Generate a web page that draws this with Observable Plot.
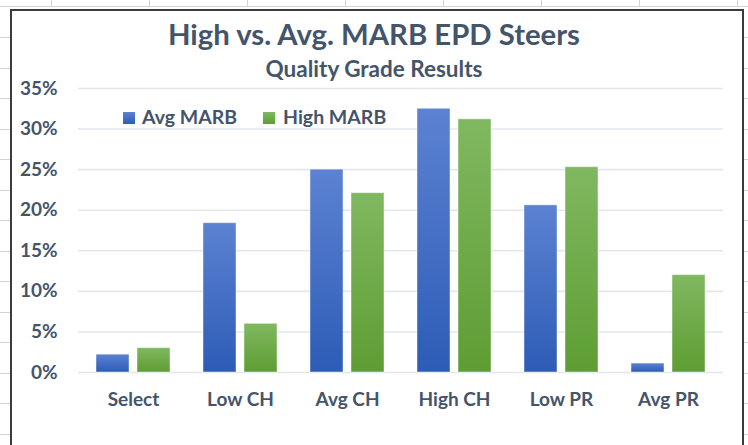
<!DOCTYPE html>
<html>
<head>
<meta charset="utf-8">
<script src="https://cdn.jsdelivr.net/npm/d3@7"></script>
<script src="https://cdn.jsdelivr.net/npm/@observablehq/plot@0.6"></script>
<style>
  html, body { margin: 0; padding: 0; }
  body {
    width: 748px; height: 445px; overflow: hidden; position: relative;
    background: #fff; font-family: Lato, "Open Sans", sans-serif;
  }
  .sheet-top { position: absolute; left: 0; top: 6px; width: 748px; height: 1px; background: #d4d4d4; }
  .sheet-cols { position: absolute; left: 0; top: 0; width: 748px; height: 7px;
    background: repeating-linear-gradient(90deg, transparent 0 51px, #d4d4d4 51px 52px, transparent 52px 98px); }
  .sheet-rows-l { position: absolute; left: 0; top: 8px; width: 10px; height: 437px;
    background: repeating-linear-gradient(180deg, transparent 0 29px, #d4d4d4 29px 30px, transparent 30px 30.5px); }
  .sheet-rows-r { position: absolute; left: 743px; top: 8px; width: 5px; height: 437px;
    background: repeating-linear-gradient(180deg, transparent 0 29px, #d4d4d4 29px 30px, transparent 30px 30.5px); }
  .frame { position: absolute; left: 10px; top: 9px; width: 730px; height: 460px;
    border: 2px solid #3c3c3c; background: #fff; }
  .title { position: absolute; left: 0; width: 748px; text-align: center; color: #44546A; font-weight: 700; }
  #t1 { top: 16px; font-size: 29.3px; line-height: 36px; }
  #t2 { top: 56px; font-size: 22.5px; line-height: 26px; }
  .legend { position: absolute; top: 105px; left: 0; color: #44546A; font-weight: 700; font-size: 19.5px; line-height: 24px; }
  .legend span.item { position: absolute; white-space: nowrap; }
  .legend i { position: absolute; top: 7px; width: 12px; height: 12px; }
  .layer { position: absolute; left: 0; top: 60px; }
</style>
</head>
<body>
<div class="sheet-top"></div>
<div class="sheet-cols"></div>
<div class="sheet-rows-l"></div>
<div class="sheet-rows-r"></div>
<div class="frame"></div>
<div class="layer" id="axes"></div>
<div class="layer" id="bars"></div>
<div class="title" id="t1">High vs. Avg. MARB EPD Steers</div>
<div class="title" id="t2">Quality Grade Results</div>
<div class="legend" id="legend"></div>
<script>
const categories = ["Select", "Low CH", "Avg CH", "High CH", "Low PR", "Avg PR"];
const seriesNames = ["Avg MARB", "High MARB"];
const avgMarb = [2.2, 18.4, 25.0, 32.5, 20.6, 1.1];
const highMarb = [3.0, 6.0, 22.1, 31.2, 25.3, 12.0];
const yTicks = [0, 5, 10, 15, 20, 25, 30, 35];
const seriesColors = {
  "Avg MARB": ["#5C82D2", "#2D5CB6"],
  "High MARB": ["#80B860", "#5E9D33"]
};

const rows = [];
categories.forEach((c, i) => {
  rows.push({cat: c, series: seriesNames[0], value: avgMarb[i]});
  rows.push({cat: c, series: seriesNames[1], value: highMarb[i]});
});

const gradId = s => "grad-" + s.replace(/\s+/g, "-");
const textColor = "#44546A";
const fontFamily = "Lato, 'Open Sans', sans-serif";

const common = {
  width: 748,
  height: 360,
  marginTop: 28,
  marginBottom: 48,
  marginLeft: 78,
  marginRight: 25,
  style: {fontFamily, background: "transparent", color: textColor},
  y: {domain: [0, 35], label: null}
};

// Layer 1: continuous gridlines, y axis and category axis
const axesPlot = Plot.plot({
  ...common,
  x: {domain: categories, paddingInner: 0.31, paddingOuter: 0.155, label: null},
  marks: [
    Plot.ruleY(yTicks, {stroke: "#E3E7ED", strokeWidth: 1.6}),
    Plot.axisY(yTicks, {tickSize: 0, tickPadding: 21, tickFormat: d => d + "%", fontSize: 19, fontWeight: 700, fill: textColor, label: null}),
    Plot.axisX({tickSize: 0, tickPadding: 20, fontSize: 19, fontWeight: 700, fill: textColor, label: null})
  ]
});
document.getElementById("axes").appendChild(axesPlot);

// Layer 2: grouped bars (faceted by category)
const barsPlot = Plot.plot({
  ...common,
  fx: {domain: categories, paddingInner: 0.31, paddingOuter: 0.155, label: null, axis: null},
  x: {domain: seriesNames, paddingInner: 0.2, paddingOuter: 0, axis: null},
  marks: seriesNames.map(s => Plot.barY(rows.filter(r => r.series === s), {
    fx: "cat", x: "series", y: "value",
    fill: `url(#${gradId(s)})`,
    stroke: "#ffffff", strokeOpacity: 0.45, strokeWidth: 1
  }))
});
barsPlot.querySelectorAll("[aria-label='y-axis tick'], [aria-label='y-axis tick label']").forEach(n => n.remove());
const defs = d3.select(barsPlot).insert("defs", ":first-child");
seriesNames.forEach(s => {
  const g = defs.append("linearGradient").attr("id", gradId(s))
    .attr("x1", 0).attr("y1", 0).attr("x2", 0).attr("y2", 1);
  g.append("stop").attr("offset", "0%").attr("stop-color", seriesColors[s][0]);
  g.append("stop").attr("offset", "100%").attr("stop-color", seriesColors[s][1]);
});
document.getElementById("bars").appendChild(barsPlot);

// legend
const legend = document.getElementById("legend");
const legendX = [123, 263];
seriesNames.forEach((s, i) => {
  const item = document.createElement("span");
  item.className = "item";
  item.style.left = legendX[i] + "px";
  const sw = document.createElement("i");
  sw.style.left = "0px";
  sw.style.background = `linear-gradient(${seriesColors[s][0]}, ${seriesColors[s][1]})`;
  item.appendChild(sw);
  const t = document.createElement("span");
  t.style.marginLeft = (i === 0 ? 19 : 20) + "px";
  t.textContent = s;
  item.appendChild(t);
  legend.appendChild(item);
});
</script>
</body>
</html>
